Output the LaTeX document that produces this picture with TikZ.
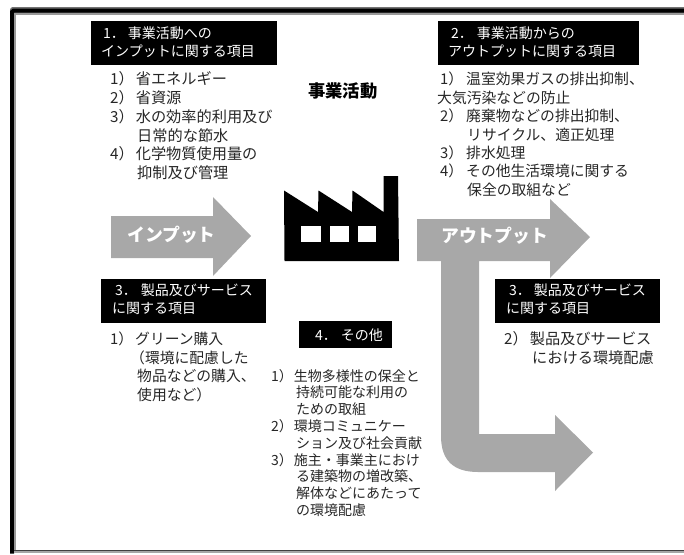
\documentclass[tikz,border=0pt]{standalone}
\usepackage{fontspec}
\setmainfont{Noto Sans CJK JP}
\tikzset{
  x=1pt,y=-1pt,
  blk/.style={fill=black,draw=none},
  hd/.style={text=white,font=\fontsize{14}{17.3}\selectfont,align=left,anchor=north west,inner sep=0pt},
  body/.style={text=black!85,font=\fontsize{15.2}{18.8}\selectfont,align=left,anchor=north west,inner sep=0pt},
  body2/.style={text=black!85,font=\fontsize{14.8}{18.4}\selectfont,align=left,anchor=north west,inner sep=0pt},
  body4/.style={text=black!85,font=\fontsize{14}{16.8}\selectfont,align=left,anchor=north west,inner sep=0pt},
  arw/.style={fill=black!34,draw=none},
  arwt/.style={text=white,font=\fontsize{17.8}{20}\bfseries\selectfont,inner sep=0pt,anchor=west},
}
\begin{document}
\begin{tikzpicture}
\useasboundingbox (0,0) rectangle (684,554);
% frame
\fill[black!55] (684,7) -- (12,7) -- (10,9) -- (10,13) -- (684,13) -- cycle;
\fill[black] (684,8.5) -- (13,8.5) -- (10,11) -- (10,553.5) -- (14,553.5) -- (14,12.5) -- (684,12.5) -- cycle;
\fill[black!40] (14,12.5) rectangle (684,15);
\fill[black!40] (14,12.5) rectangle (16,553);
\fill[black!75] (14,549.7) rectangle (684,551);
\fill[black!35] (14,551) rectangle (684,553);
% arrows
\fill[arw] (111,216) -- (213,216) -- (213,197) -- (251,236) -- (213,276) -- (213,258) -- (111,258) -- cycle;
\fill[arw] (417,219) -- (550,219) -- (550,199) -- (590,237) -- (550,278) -- (550,261) -- (479,261) -- (479,434) -- (555,434) -- (555,415) -- (593,452.5) -- (555,491) -- (555,472) -- (478,472) .. controls (453,472) and (441,460) .. (441,436) -- (441,261) -- (417,261) -- cycle;
\node[arwt] (inp) at (127,235) {インプット};
\node[arwt] (outp) at (441,236) {アウトプット};
% factory
\fill[black] (284,190.5) -- (318,212) -- (318.5,190.5) -- (352,212) -- (352.5,190.5) -- (383.5,212) -- (383.7,176) -- (398,176) -- (399,261) -- (284.5,261) -- cycle;
\fill[white] (300.5,226) rectangle (321,241.5);
\fill[white] (330,226) rectangle (348.5,241.5);
\fill[white] (357.5,226) rectangle (376,241.5);
\node[font=\fontsize{17.3}{20}\bfseries\selectfont,anchor=west,inner sep=0pt] (title) at (308,91) {事業活動};
% headers
\fill[blk] (91,21) rectangle (277,65);
\node[hd] (h1) at (101,27) {\hspace*{2pt}1．\hspace{3pt}事業活動への\\インプットに関する項目};
\fill[blk] (438,21) rectangle (639,65);
\node[hd] (h2) at (448,27) {\hspace*{3pt}2．\hspace{4pt}事業活動からの\\アウトプットに関する項目};
\fill[blk] (101,279) rectangle (266,323);
\node[hd] (h3a) at (112,284) {\hspace*{3pt}3．\hspace{4pt}製品及びサービス\\に関する項目};
\fill[blk] (495,279) rectangle (660,323);
\node[hd] (h3b) at (506,284) {\hspace*{3pt}3．\hspace{3pt}製品及びサービス\\に関する項目};
\fill[blk] (299,321) rectangle (392,348);
\node[hd,anchor=west] (h4) at (315,335) {4．\hspace{4pt}その他};
% bodies
\node[body] (b1) at (110,71.5) {1）\hspace{2pt}省エネルギー\\2）\hspace{2pt}省資源\\3）\hspace{2pt}水の効率的利用及び\\\hspace*{27pt}日常的な節水\\4）\hspace{2pt}化学物質使用量の\\\hspace*{27pt}抑制及び管理};
\node[body2] (b2) at (437,72) {\hspace*{3pt}1）\hspace{3pt}温室効果ガスの排出抑制、\\大気汚染などの防止\\\hspace*{3pt}2）\hspace{3pt}廃棄物などの排出抑制、\\\hspace*{30pt}リサイクル、適正処理\\\hspace*{3pt}3）\hspace{3pt}排水処理\\\hspace*{3pt}4）\hspace{3pt}その他生活環境に関する\\\hspace*{30pt}保全の取組など};
\node[body2] (b3a) at (110,332) {1）\hspace{2pt}グリーン購入\\\hspace*{20pt}（環境に配慮した\\\hspace*{27pt}物品などの購入、\\\hspace*{27pt}使用など）};
\node[body] (b3b) at (504,331) {2）\hspace{2pt}製品及びサービス\\\hspace*{28pt}における環境配慮};
\node[body4] (b4) at (271,369) {1）\hspace{1pt}生物多様性の保全と\\\hspace*{25pt}持続可能な利用の\\\hspace*{25pt}ための取組\\2）\hspace{1pt}環境コミュニケー\\\hspace*{25pt}ション及び社会貢献\\3）\hspace{1pt}施主・事業主におけ\\\hspace*{25pt}る建築物の増改築、\\\hspace*{25pt}解体などにあたって\\\hspace*{25pt}の環境配慮};
\end{tikzpicture}
\end{document}
